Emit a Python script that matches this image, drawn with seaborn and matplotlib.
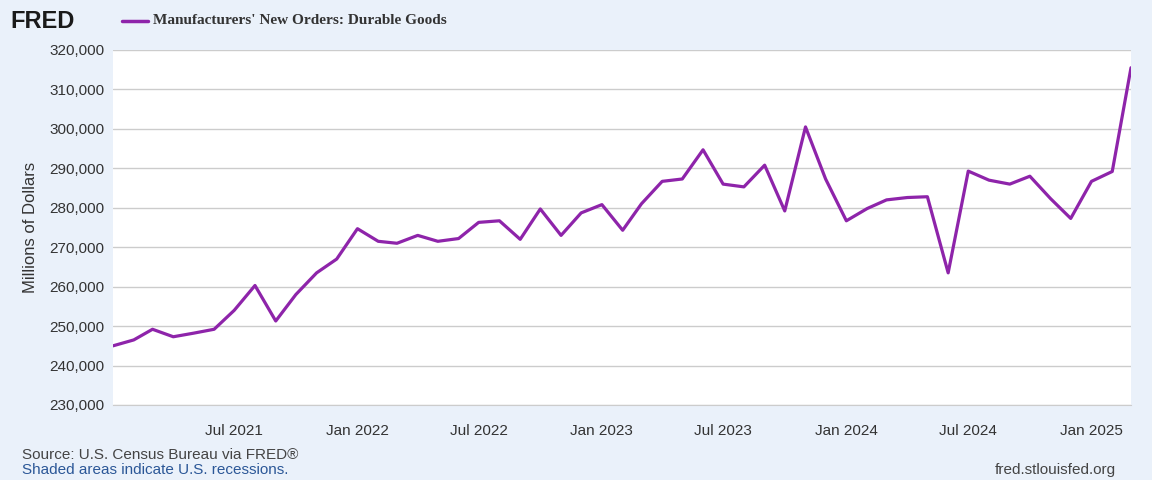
import pandas as pd
import numpy as np
import matplotlib.pyplot as plt
import seaborn as sns

dates = pd.date_range('2021-01-01', '2025-03-01', freq='MS')
orders = [245.0, 246.5, 249.2, 247.3, 248.2, 249.2, 254.0, 260.3, 251.3, 258.0, 263.5, 267.0,
          274.7, 271.5, 271.0, 273.0, 271.5, 272.2, 276.3, 276.7, 272.0, 279.7, 273.0, 278.7,
          280.8, 274.3, 281.0, 286.7, 287.3, 294.7, 286.0, 285.3, 290.8, 279.2, 300.5, 287.3,
          276.7, 279.8, 282.0, 282.6, 282.8, 263.5, 289.3, 287.0, 286.0, 288.0, 282.3, 277.3,
          286.7, 289.2, 315.5]
df = pd.DataFrame({'date': dates, 'value': np.array(orders) * 1000})

bg = '#eaf1fa'
sns.set_style('white')
plt.rcParams['font.family'] = ['Liberation Sans', 'DejaVu Sans']
fig = plt.figure(figsize=(11.52, 4.8), dpi=100, facecolor=bg)
ax = fig.add_axes([113/1152, 1-405/480, (1131-113)/1152, 355/480])
sns.lineplot(df, x='date', y='value', ax=ax, color='#8e24aa', linewidth=2.3)

ax.set_ylim(230000, 320000)
ax.set_yticks(range(230000, 320001, 10000))
ax.set_yticklabels([f'{v:,}' for v in range(230000, 320001, 10000)], fontsize=11, color='#333333')
ax.set_xlim(dates[0], dates[-1])
ticks = pd.to_datetime(['2021-07-01', '2022-01-01', '2022-07-01', '2023-01-01', '2023-07-01',
                        '2024-01-01', '2024-07-01', '2025-01-01'])
ax.set_xticks(ticks)
ax.set_xticklabels([t.strftime('%b %Y') for t in ticks], fontsize=11, color='#333333')
ax.grid(axis='y', color='#cccccc', linewidth=1)
ax.set_xlabel('')
ax.set_ylabel('Millions of Dollars', fontsize=12, color='#333333', labelpad=8)
for s in ['top', 'right', 'left']:
    ax.spines[s].set_visible(False)
ax.spines['bottom'].set_color('#cccccc')
ax.tick_params(axis='both', length=0, pad=6)
ax.tick_params(axis='x', length=8, color='#cccccc', direction='out')

fig.text(10/1152, 1-21/480, 'FRED', fontsize=17, fontweight='bold', color='#1a1a1a', va='center')
fig.add_artist(plt.Line2D([122/1152, 148/1152], [1-21/480, 1-21/480], color='#8e24aa', linewidth=2.5))
fig.text(153/1152, 1-21/480, "Manufacturers' New Orders: Durable Goods", fontsize=11,
         fontweight='bold', family='Liberation Serif', color='#333333', va='center')
fig.text(22/1152, 1-455/480, 'Source: U.S. Census Bureau via FRED®', fontsize=11, color='#444444', va='center')
fig.text(22/1152, 1-470/480, 'Shaded areas indicate U.S. recessions.', fontsize=11, color='#2b5797', va='center')
fig.text(1116/1152, 1-470/480, 'fred.stlouisfed.org', fontsize=11, color='#444444', va='center', ha='right')

fig.savefig('out.png', dpi=100, facecolor=bg)
